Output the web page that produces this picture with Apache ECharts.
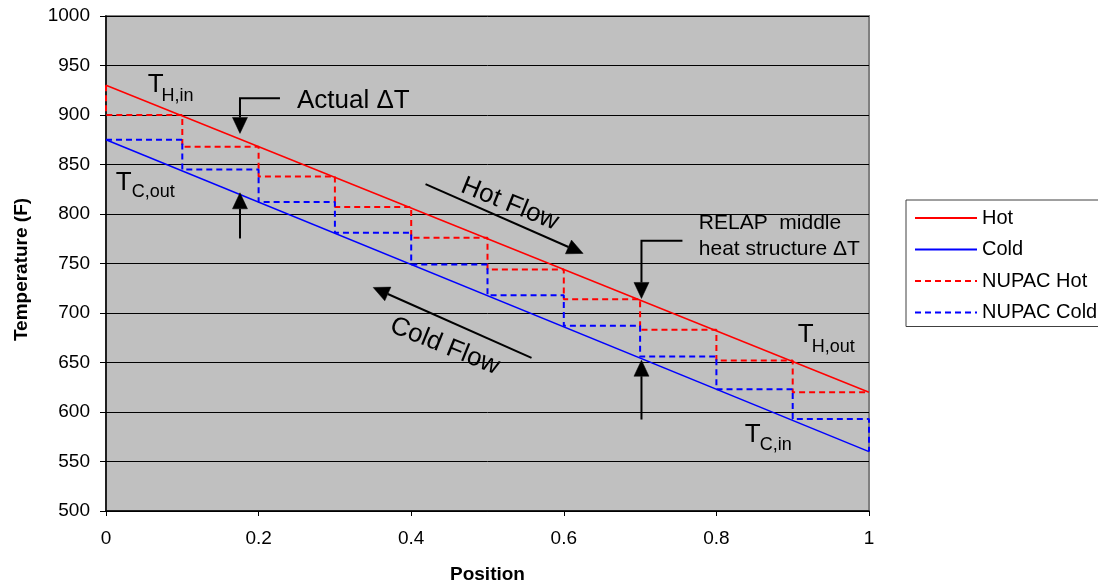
<!DOCTYPE html>
<html><head><meta charset="utf-8">
<script src="https://cdn.jsdelivr.net/npm/echarts@6/dist/echarts.min.js"></script>
<style>html,body{margin:0;padding:0;background:#fff}#c{width:1098px;height:583px}</style>
</head><body><div id="c"></div>
<script>
// ---- data ----
const positions = [0, 0.1, 0.2, 0.3, 0.4, 0.5, 0.6, 0.7, 0.8, 0.9, 1.0];
const nupacHot  = [930, 900, 868, 838, 807, 776, 744, 714, 683, 652, 620];
const nupacCold = [875, 845, 812, 781, 749, 718, 687, 656, 623, 593, 560];
const lineEnds  = [0, 1];
const hotLine   = [930, 620];
const coldLine  = [875, 560];
const seriesNames = ['Hot', 'Cold', 'NUPAC Hot', 'NUPAC Cold'];
const yMin = 500, yMax = 1000, yStep = 50;
const xMin = 0, xMax = 1, xStep = 0.2;

// annotation anchors in data coordinates
const labels = [
  {t: 'T', x: 0.0546, y: 930.3, s: 26},
  {t: 'H,in', x: 0.0729, y: 918.9, s: 18},
  {t: 'Actual \u0394T', x: 0.2502, y: 914.1, s: 26},
  {t: 'T', x: 0.0127, y: 831.2, s: 26},
  {t: 'C,out', x: 0.0337, y: 822.1, s: 18},
  {t: 'Hot Flow', x: 0.5293, y: 810.0, s: 26, rot: -22, c: true},
  {t: 'Cold Flow', x: 0.4441, y: 666.5, s: 26, rot: -22, c: true},
  {t: 'RELAP  middle', x: 0.7769, y: 790.4, s: 21},
  {t: 'heat structure \u0394T', x: 0.7769, y: 764.4, s: 21},
  {t: 'T', x: 0.9066, y: 677.6, s: 26},
  {t: 'H,out', x: 0.9249, y: 666.0, s: 18},
  {t: 'T', x: 0.8371, y: 576.5, s: 26},
  {t: 'C,in', x: 0.8568, y: 566.4, s: 18}
];
const arrows = [
  [[0.228, 916.8], [0.1756, 916.8], [0.1756, 881.4]],
  [[0.1756, 775.3], [0.1756, 821.4]],
  [[0.4188, 830.2], [0.6253, 760.2]],
  [[0.5577, 654.6], [0.3502, 725.8]],
  [[0.7555, 772.9], [0.7018, 772.9], [0.7018, 714.7]],
  [[0.7018, 592.4], [0.7018, 652.3]]
];

const FONT = 'Liberation Sans, Arial, sans-serif';
const chart = echarts.init(document.getElementById('c'), null, {renderer: 'canvas'});
const zip = (xs, ys) => xs.map((x, i) => [x, ys[i]]);

chart.setOption({
  animation: false,
  backgroundColor: '#fff',
  textStyle: {fontFamily: FONT},
  grid: {left: 106, right: 229, top: 16, bottom: 72, show: true, containLabel: false,
         outerBoundsMode: 'none',
         backgroundColor: '#C0C0C0', borderColor: '#808080', borderWidth: 2},
  legend: {
    orient: 'vertical', left: 906, top: 200,
    padding: [8, 60, 4, 8], itemGap: 11.5, itemWidth: 62, itemHeight: 14,
    borderColor: '#404040', borderWidth: 1, backgroundColor: '#fff',
    itemStyle: {opacity: 0},
    textStyle: {fontSize: 20, lineHeight: 20, color: '#000', fontFamily: FONT},
    data: seriesNames
  },
  xAxis: {
    type: 'value', min: xMin, max: xMax, interval: xStep,
    name: 'Position', nameLocation: 'middle', nameGap: 54,
    nameTextStyle: {fontSize: 19, fontWeight: 'bold', color: '#000', fontFamily: FONT},
    axisLine: {show: true, lineStyle: {color: '#000', width: 1.5}},
    axisTick: {show: true, length: 5, lineStyle: {color: '#000'}},
    axisLabel: {fontSize: 19, color: '#000', margin: 18, fontFamily: FONT},
    splitLine: {show: false}
  },
  yAxis: {
    type: 'value', min: yMin, max: yMax, interval: yStep,
    name: 'Temperature (F)', nameLocation: 'middle', nameGap: 75,
    nameTextStyle: {fontSize: 19, fontWeight: 'bold', color: '#000', fontFamily: FONT, padding: [0, 12, 0, 0]},
    axisLine: {show: true, lineStyle: {color: '#000', width: 1.5}},
    axisTick: {show: true, length: 6, lineStyle: {color: '#000'}},
    axisLabel: {fontSize: 19, color: '#000', margin: 16, fontFamily: FONT, formatter: v => String(v)},
    splitLine: {show: true, lineStyle: {color: '#000', width: 1}}
  },
  series: [
    {name: seriesNames[0], type: 'line', data: zip(lineEnds, hotLine), symbol: 'none', clip: false,
     lineStyle: {color: '#FF0000', width: 1.5}, itemStyle: {color: '#FF0000'}},
    {name: seriesNames[1], type: 'line', data: zip(lineEnds, coldLine), symbol: 'none', clip: false,
     lineStyle: {color: '#0000FF', width: 1.5}, itemStyle: {color: '#0000FF'}},
    {name: seriesNames[2], type: 'line', step: 'start', data: zip(positions, nupacHot), symbol: 'none', clip: false,
     lineStyle: {color: '#FF0000', width: 2, type: [6, 4]}, itemStyle: {color: '#FF0000'}},
    {name: seriesNames[3], type: 'line', step: 'end', data: zip(positions, nupacCold), symbol: 'none', clip: false,
     lineStyle: {color: '#0000FF', width: 2, type: [6, 4]}, itemStyle: {color: '#0000FF'}}
  ]
});

// annotations, placed via the chart's own coordinate conversion
const P = (d) => chart.convertToPixel({gridIndex: 0}, d);
const g = [];
labels.forEach(l => {
  const p = P([l.x, l.y]);
  g.push({type: 'text', x: p[0], y: p[1], rotation: (l.rot || 0) * Math.PI / 180, z: 100,
    style: {text: l.t, font: l.s + 'px ' + FONT, fill: '#000',
            align: l.c ? 'center' : 'left', verticalAlign: 'middle'}});
});
arrows.forEach(a => {
  const pts = a.map(P);
  const tip = pts[pts.length - 1], prev = pts[pts.length - 2];
  const dx = tip[0] - prev[0], dy = tip[1] - prev[1];
  const len = Math.hypot(dx, dy), ux = dx / len, uy = dy / len;
  const L = 16, W = 7.5;
  const base = [tip[0] - ux * L, tip[1] - uy * L];
  const linePts = pts.slice(0, -1).concat([base]);
  g.push({type: 'polyline', z: 100, shape: {points: linePts},
          style: {stroke: '#000', lineWidth: 2, fill: null}});
  g.push({type: 'polygon', z: 100, shape: {points: [tip,
          [base[0] - uy * W, base[1] + ux * W], [base[0] + uy * W, base[1] - ux * W]]},
          style: {fill: '#000', stroke: '#000', lineWidth: 0.5}});
});
chart.setOption({graphic: g});
</script></body></html>
